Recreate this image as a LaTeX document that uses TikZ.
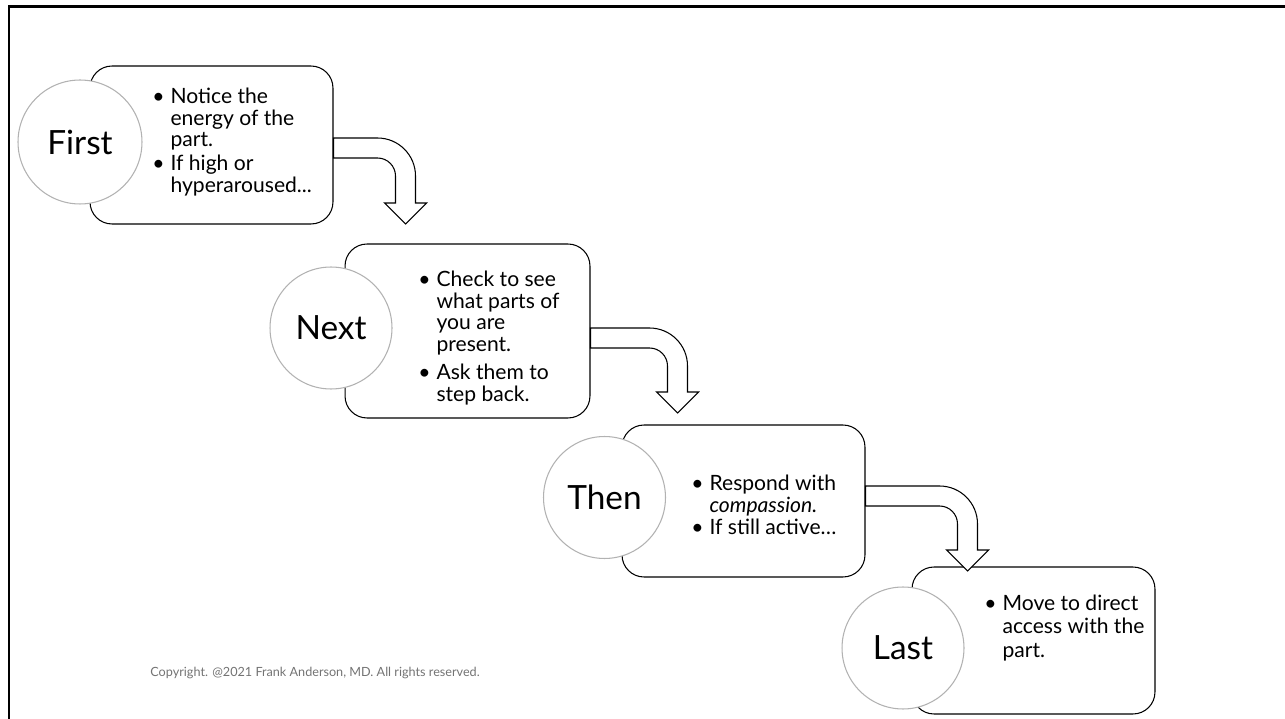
\documentclass[tikz,border=0pt]{standalone}
\usepackage{fontspec}
\setmainfont{Lato}

\begin{document}
\begin{tikzpicture}[x=0.02cm, y=-0.02cm,
	stepbox/.style={draw, fill=white, rounded corners=0.44cm, line width=0.6pt, minimum width=4.86cm, inner sep=0pt},
	stepcircle/.style={circle, draw=black!30, fill=white, line width=0.6pt, minimum size=2.44cm, inner sep=0pt, font=\fontsize{19}{22}\selectfont},
	steptext/.style={anchor=base west, inner sep=0pt, font=\fontsize{12}{12}\selectfont},
	bentarrow/.style={draw, fill=white, line width=0.6pt, line join=miter}]
	\useasboundingbox (0,0) rectangle (1285,719);
	\draw[line width=1.3pt] (9,719) -- (9,6.5) -- (1285,6.5);
	
	\node[stepbox, minimum height=3.16cm] (box1) at (211.5,145) {};
	\node[stepbox, minimum height=3.48cm, minimum width=4.9cm] (box2) at (467.5,331) {};
	\node[stepbox, minimum height=3.04cm] (box3) at (743.5,501) {};
	\node[stepbox, minimum height=2.94cm] (box4) at (1033.5,640.5) {};
	
	\node[stepcircle, minimum size=2.48cm] (first) at (80,142) {First};
	\node[stepcircle] (next) at (331,328) {Next};
	\node[stepcircle] (then) at (604.5,497.5) {Then};
	\node[stepcircle] (last) at (903,648) {Last};
	
	\node[steptext] (text1) at (152,104) {\begin{tabular}[t]{@{}l@{\hspace{0.12cm}}l@{}}
		\textbullet & Notice the\\
		& energy of the\\
		& part.\\[1pt]
		\textbullet & If high or\\
		& hyperaroused...
	\end{tabular}};
	\node[steptext] (text2) at (418,287) {\begin{tabular}[t]{@{}l@{\hspace{0.12cm}}l@{}}
		\textbullet & Check to see\\
		& what parts of\\
		& you are\\
		& present.\\[4pt]
		\textbullet & Ask them to\\
		& step back.
	\end{tabular}};
	\node[steptext] (text3) at (691,491) {\begin{tabular}[t]{@{}l@{\hspace{0.12cm}}l@{}}
		\textbullet & Respond with\\
		& \textit{compassion.}\\
		\textbullet & If still active…
	\end{tabular}};
	\node[steptext, font=\fontsize{12}{13.4}\selectfont] (text4) at (984,610) {\begin{tabular}[t]{@{}l@{\hspace{0.12cm}}l@{}}
		\textbullet & Move to direct\\
		& access with the\\
		& part.
	\end{tabular}};
	
	\node[anchor=west, inner sep=0pt, text=black!55, font=\fontsize{7.2}{9}\selectfont] (copyright) at (150,673) {Copyright. @2021 Frank Anderson, MD. All rights reserved.};
	
	\draw[bentarrow] ([yshift=0.14cm]box1.east) -- ++(44,0) arc[start angle=-90, end angle=0, radius=38] -- ++(0,27) -- ++(11,0) -- ++(-21,21) -- ++(-21,-21) -- ++(11,0) -- ++(0,-27) arc[start angle=0, end angle=-90, radius=18] -- ++(-44,0) -- cycle;
	\draw[bentarrow] ([yshift=0.06cm]box2.east) -- ++(59,0) arc[start angle=-90, end angle=0, radius=38] -- ++(0,26) -- ++(11,0) -- ++(-21,21) -- ++(-21,-21) -- ++(11,0) -- ++(0,-26) arc[start angle=0, end angle=-90, radius=18] -- ++(-59,0) -- cycle;
	\draw[bentarrow] ([yshift=0.30cm]box3.east) -- ++(74,0) arc[start angle=-90, end angle=0, radius=38] -- ++(0,26) -- ++(11,0) -- ++(-21,21) -- ++(-21,-21) -- ++(11,0) -- ++(0,-26) arc[start angle=0, end angle=-90, radius=18] -- ++(-74,0) -- cycle;
\end{tikzpicture}
\end{document}
